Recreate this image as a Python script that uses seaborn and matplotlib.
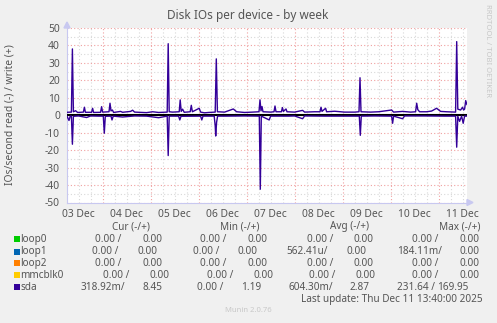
import matplotlib
matplotlib.use("Agg")
import matplotlib.pyplot as plt
import seaborn as sns
import pandas as pd
import numpy as np
from matplotlib.patches import Rectangle

sns.set_theme(style="white")
plt.rcParams['font.family'] = ['Noto Sans', 'DejaVu Sans']

# ---------------- data ----------------
# hours since 03 Dec 00:00
write_hours = [6.2, 8.4, 8.9, 9.4, 10.5, 11.5, 14.4, 14.9, 15.4, 18.5, 19, 19.5, 23, 23.5, 24,
               27.2, 27.7, 28.2, 28.9, 29.5, 33, 34, 38, 39, 40, 46, 49, 52, 56.3, 56.8, 57.3,
               59, 62.3, 62.8, 63.3, 64, 64.8, 67.8, 68.35, 68.9, 72.3, 73, 75, 77, 80.3, 80.85,
               81.4, 85, 89.35, 91, 95, 99, 102.2, 102.7, 103.2, 103.7, 104.2, 108, 109.7, 110.2,
               110.7, 113.4, 113.9, 114.4, 115.7, 116.2, 120, 124, 125, 130, 132.7, 133.2, 133.7,
               135.5, 136, 140, 145, 150, 152.2, 152.7, 153.2, 158, 162, 168.5, 169.5, 174, 178,
               180.5, 181.05, 181.6, 182.5, 186, 188.5, 191, 193, 196, 200.5, 201.05, 201.6, 203,
               204, 204.5, 205.0, 205.55, 206.2]
write_vals = [1.7, 1.8, 38, 2.0, 2.6, 1.6, 1.8, 4.6, 1.7, 1.7, 4.0, 1.6, 1.7, 4.9, 1.8,
              2.0, 6.9, 2.5, 3.0, 1.6, 2.2, 1.7, 2.2, 2.9, 1.8, 1.5, 2.0, 1.6, 1.8, 41, 2.0,
              1.8, 2.0, 8.8, 2.2, 3.5, 1.7, 2.0, 5.7, 2.0, 4.0, 1.8, 1.4, 1.6, 1.8, 32.3,
              2.0, 1.8, 3.6, 2.0, 1.6, 1.8, 2.0, 8.8, 2.5, 5.0, 2.0, 1.8, 2.0, 5.3,
              2.0, 2.0, 4.4, 2.2, 3.6, 2.0, 1.8, 2.8, 1.8, 2.0, 2.0, 4.6, 2.2,
              4.0, 2.0, 2.3, 1.8, 1.8, 2.0, 21.5, 2.0, 1.8, 2.0, 3.0, 1.8, 2.2, 1.8,
              2.0, 6.9, 3.2, 2.0, 2.0, 2.4, 4.0, 2.2, 2.0, 1.8, 42.2, 3.5, 3.0,
              4.6, 3.0, 3.5, 8.4, 6.0]

read_hours = [6.2, 7.2, 7.8, 8.4, 8.9, 9.4, 12, 16, 18, 22, 24.35, 24.85, 25.35, 28.2, 28.7,
              29.3, 34, 40, 46, 52, 56.3, 56.8, 57.3, 62, 62.6, 63.2, 73, 73.6, 74.2, 79.8,
              80.3, 80.55, 81, 81.5, 86, 95, 102.35, 102.85, 103.35, 107.3, 108, 117, 120,
              124, 125, 135, 150, 152.35, 152.85, 153.35, 160, 168.5, 169, 169.5, 174, 175,
              185, 195, 200.5, 201.05, 201.6, 202.5, 203.5, 204.3, 205, 206.2]
read_vals = [0.5, 3.0, 0.5, 0.5, 16.6, 0.6, 0.4, 1.3, 0.4, 0.5, 0.5, 10.3, 0.6, 0.5, 2.7,
             0.5, 1.0, 0.4, 0.5, 1.4, 0.5, 23.1, 0.5, 0.5, 2.7, 0.6, 0.5, 2.7, 0.5, 0.5,
             6.0, 11.9, 4.0, 0.5, 0.5, 0.4, 0.5, 42.4, 0.5, 2.7, 0.5, 0.5, 0.4,
             2.0, 0.4, 0.5, 0.5, 0.5, 11.5, 0.5, 0.4, 0.5, 4.6, 0.5, 2.0, 0.4,
             0.4, 0.5, 0.5, 18.3, 0.6, 3.5, 0.5, 4.6, 0.5, 0.5]

x_start, x_end = 6.2, 206.2
day_labels = ["03 Dec", "04 Dec", "05 Dec", "06 Dec", "07 Dec", "08 Dec", "09 Dec", "10 Dec", "11 Dec"]
y_ticks = [-50, -40, -30, -20, -10, 0, 10, 20, 30, 40, 50]

devices = ["loop0", "loop1", "loop2", "mmcblk0", "sda"]
colors = ["#00CC00", "#0066B3", "#FF8000", "#FFCC00", "#330099"]
cur_vals = [("0.00 /", "0.00"), ("0.00 /", "0.00"), ("0.00 /", "0.00"), ("0.00 /", "0.00"), ("318.92m/", "8.45")]
min_vals = [("0.00 /", "0.00"), ("0.00 /", "0.00"), ("0.00 /", "0.00"), ("0.00 /", "0.00"), ("0.00 /", "1.19")]
avg_vals = [("0.00 /", "0.00"), ("562.41u/", "0.00"), ("0.00 /", "0.00"), ("0.00 /", "0.00"), ("604.30m/", "2.87")]
max_vals = [("0.00 /", "0.00"), ("184.11m/", "0.00"), ("0.00 /", "0.00"), ("0.00 /", "0.00"), ("231.64 /", "169.95")]

# ---------------- figure ----------------
W, H = 497, 323
fig = plt.figure(figsize=(W / 100, H / 100), dpi=100, facecolor="#F0F0F0")
L, R, T, B = 67, 467, 28, 202.5
ax = fig.add_axes([L / W, 1 - B / H, (R - L) / W, (B - T) / H])
ax.set_facecolor("white")

def fx(x):
    return x / W

def fy(y):
    return 1 - y / H

FS = 7.2

# grid
for h in np.arange(6, x_end + 0.01, 6):
    if h < x_start:
        continue
    if h % 24 == 0:
        ax.axvline(h, color="#F0A0A0", lw=0.8, ls=(0, (1, 2)), zorder=1)
    else:
        ax.axvline(h, color="#D8D8D8", lw=0.8, ls=(0, (1, 2)), zorder=1)
for v in range(-50, 51, 5):
    if v % 10 == 0:
        ax.axhline(v, color="#F0A0A0", lw=0.8, ls=(0, (1, 2)), zorder=1)
    else:
        ax.axhline(v, color="#D8D8D8", lw=0.8, ls=(0, (1, 2)), zorder=1)

# zero-valued devices
zero_df = pd.DataFrame({"h": [x_start, x_end], "v": [0, 0]})
for c in colors[:4]:
    sns.lineplot(data=zero_df, x="h", y="v", color=c, lw=0.7, ax=ax, zorder=2)

df_w = pd.DataFrame({"h": write_hours, "v": write_vals})
df_r = pd.DataFrame({"h": read_hours, "v": [-v for v in read_vals]})
ax.axhline(0, color="black", lw=1.5, zorder=3)
sns.lineplot(data=df_w, x="h", y="v", color=colors[4], lw=1.0, ax=ax, estimator=None, sort=False, zorder=4)
sns.lineplot(data=df_r, x="h", y="v", color=colors[4], lw=1.0, ax=ax, estimator=None, sort=False, zorder=4)

ax.set_xlim(x_start, x_end)
ax.set_ylim(-50, 50)
ax.set_xlabel("")
ax.set_ylabel("")
ax.set_xticks([12 + 24 * i for i in range(len(day_labels))])
ax.set_xticklabels(day_labels)
ax.set_yticks(y_ticks)
ax.set_yticklabels([str(t) for t in y_ticks])
ax.tick_params(axis="both", labelsize=FS + 0.2, colors="#555555", length=0, pad=5)
for s in ["top", "right"]:
    ax.spines[s].set_visible(False)
for s in ["left", "bottom"]:
    ax.spines[s].set_color("#C8C8F0")
    ax.spines[s].set_linewidth(0.8)
# axis arrows
fig.patches.append(matplotlib.patches.Polygon(
    [[fx(64), fy(28)], [fx(70), fy(28)], [fx(67), fy(22)]], closed=True,
    transform=fig.transFigure, color="#C8C8F0"))
fig.patches.append(matplotlib.patches.Polygon(
    [[fx(467), fy(199.5)], [fx(467), fy(205.5)], [fx(473), fy(202.5)]], closed=True,
    transform=fig.transFigure, color="#C8C8F0"))

txt = "#555555"
fig.text(fx(248), fy(16), "Disk IOs per device - by week", ha="center", va="center", fontsize=8.5, color=txt)
fig.text(fx(10), fy(115), "IOs/second read (-) / write (+)", rotation=90, ha="center", va="center", fontsize=FS + 0.2, color=txt)
fig.text(fx(488), fy(51), "RRDTOOL / TOBI OETIKER", rotation=-90, ha="center", va="center", fontsize=5.5, color="#C8C8C8")

# legend header
for x, s in [(131, "Cur (-/+)"), (240, "Min (-/+)"), (349.5, "Avg (-/+)"), (459.7, "Max (-/+)")]:
    fig.text(fx(x), fy(227), s, ha="center", va="center", fontsize=FS, color=txt)

row_y = [239.3, 251.5, 263.3, 275.3, 287.3]
cur_x = [(95, 142.7), (92.3, 137.7), (95, 142.7), (103.3, 150), (80.7, 142.7)]
min_x = [(200, 247.7), (192.7, 238), (200, 247.7), (206.7, 253.4), (196.7, 241)]
avg_x = [(306.7, 353.3), (286.7, 346.7), (306.7, 353.3), (309.3, 356), (288.3, 349.3)]
max_x = [(411.7, 459.3), (396.7, 459.3), (411.7, 459.3), (411.7, 459.3), (396.7, 437.3)]

for i, dev in enumerate(devices):
    y = row_y[i]
    fig.patches.append(Rectangle((fx(14), fy(y + 3)), 6 / W, 6 / H, transform=fig.transFigure,
                                 color=colors[i], lw=0))
    fig.text(fx(20.5), fy(y), dev, ha="left", va="center", fontsize=FS, color=txt)
    for vals, xs in [(cur_vals, cur_x), (min_vals, min_x), (avg_vals, avg_x), (max_vals, max_x)]:
        fig.text(fx(xs[i][0]), fy(y), vals[i][0], ha="left", va="center", fontsize=FS, color=txt)
        fig.text(fx(xs[i][1]), fy(y), vals[i][1], ha="left", va="center", fontsize=FS, color=txt)

fig.text(fx(482.3), fy(299.3), "Last update: Thu Dec 11 13:40:00 2025", ha="right", va="center", fontsize=FS, color=txt)
fig.text(fx(248), fy(310), "Munin 2.0.76", ha="center", va="center", fontsize=5.5, color="#C8C8C8")

fig.savefig("out.png", dpi=100, facecolor=fig.get_facecolor())
